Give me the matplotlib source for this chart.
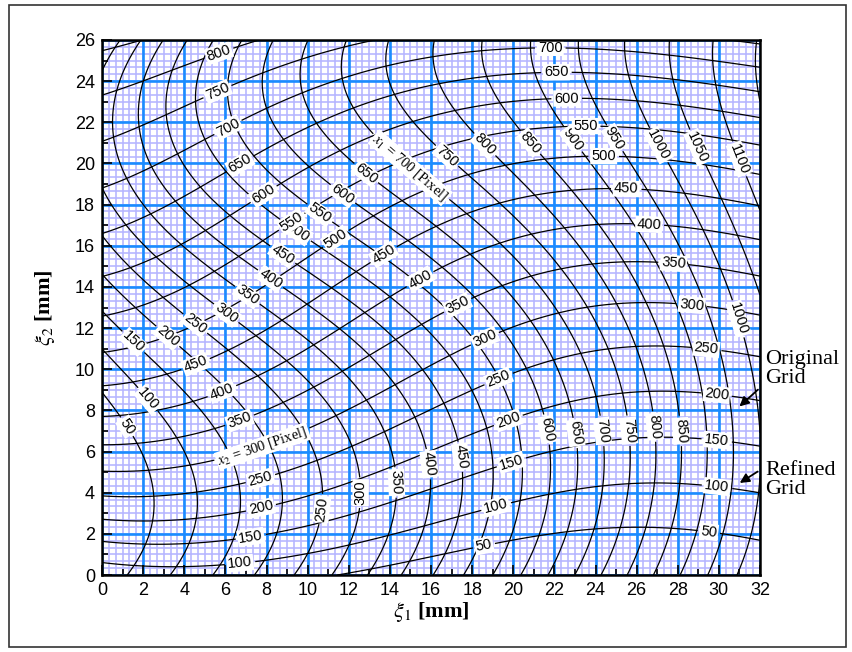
import numpy as np
import matplotlib
matplotlib.use('Agg')
import matplotlib.pyplot as plt
from matplotlib.patches import Rectangle

# ---------------- readings from the picture ----------------
# x1 pixel coordinate read at points (xi1, xi2) [mm]
x1_xi1 = [1.1, 3.3, 5.5, 7.5, 9.4, 11.2, 12.9, 14.5, 16.0, 17.5, 18.8, 20.3, 21.7, 23.0, 24.3, 25.6, 26.9, 28.2, 29.5, 30.9,
          10.7, 12.6, 14.4, 16.0, 17.8, 21.8, 23.0, 24.3, 25.5, 26.7, 28.1, 31.1,
          1.2, 2.2, 1.5, 3.2, 4.6, 6.1, 7.0, 8.2, 8.6, 9.5, 10.6, 11.7, 12.9, 15.0, 16.9, 18.7, 20.8, 22.8, 24.9, 26.9, 29.0, 31.2,
          0, 0, 0, 0, 0, 0,
          8.2, 10.0, 12.0, 14.1, 16.2, 18.3, 20.8, 23.1, 25.5, 27.7, 29.9, 31.6,
          32, 32, 32]
x1_xi2 = [0] * 20 + \
         [3.2, 4.0, 4.5, 5.4, 5.8, 7.1, 6.9, 7.0, 7.0, 7.2, 7.0, 12.5] + \
         [7.2, 8.5, 11.3, 11.6, 12.3, 12.8, 13.5, 14.4, 15.3, 16.6, 17.6, 18.5, 19.6, 19.8, 20.5, 21.0, 21.0, 21.1, 21.2, 20.8, 20.8, 20.3] + \
         [9.0, 11.1, 12.8, 14.5, 16.5, 19.1] + \
         [26] * 12 + \
         [13.5, 17.5, 0]
x1_pix = [50, 100, 150, 200, 250, 300, 350, 400, 450, 500, 550, 600, 650, 700, 750, 800, 850, 900, 950, 1000,
          250, 300, 350, 400, 450, 600, 650, 700, 750, 800, 850, 1000,
          50, 100, 150, 200, 250, 300, 350, 400, 450, 500, 550, 600, 650, 700, 750, 800, 850, 900, 950, 1000, 1050, 1100,
          50, 100, 150, 200, 250, 300,
          600, 650, 700, 750, 800, 850, 900, 950, 1000, 1050, 1100, 1150,
          1050, 1100, 1040]

# x2 pixel coordinate read at points (xi1, xi2) [mm]
x2_xi1 = [29.9, 29.9, 29.9, 29.4, 28.7, 27.8, 26.6, 25.5, 24.4, 23.5, 22.6, 22.1, 21.8, 29.5,
          18.6, 19.2, 19.9, 19.8, 19.3, 18.7, 17.2, 15.4, 13.5, 11.2, 9.2, 7.8, 6.7, 6.1, 5.7, 5.7,
          6.7, 7.2, 7.7, 7.7, 7.9, 6.8, 6.0, 4.8,
          0, 0, 0, 0, 0, 0, 0, 0, 0, 0, 0, 0,
          32, 32, 32, 32, 32, 32, 32, 32, 32, 32, 32, 32, 32, 32,
          15.4, 10.5, 7.0]
x2_xi2 = [4.2, 6.6, 8.9, 11.1, 13.3, 15.2, 17.2, 18.9, 20.3, 21.7, 23.1, 24.4, 25.5, 2.0,
          1.3, 3.2, 5.5, 7.4, 9.5, 11.3, 13.3, 14.5, 15.9, 16.6, 17.2, 18.6, 20.0, 21.8, 23.3, 25.3,
          0.7, 2.1, 3.4, 4.7, 6.0, 7.2, 8.5, 9.6,
          0.3, 1.5, 2.8, 4.0, 5.5, 6.5, 7.8, 9.2, 10.7, 21.0, 23.3, 25.5,
          1.7, 4.0, 6.4, 8.5, 10.6, 12.6, 14.4, 16.2, 17.9, 19.4, 20.8, 22.1, 23.5, 24.9,
          0.8, 0.0, 26.0]
x2_pix = [100, 150, 200, 250, 300, 350, 400, 450, 500, 550, 600, 650, 700, 50,
          50, 100, 150, 200, 250, 300, 350, 400, 450, 500, 550, 600, 650, 700, 750, 800,
          100, 150, 200, 250, 300, 350, 400, 450,
          100, 150, 200, 250, 300, 350, 400, 450, 500, 750, 800, 850,
          50, 100, 150, 200, 250, 300, 350, 400, 450, 500, 550, 600, 650, 700,
          50, 50, 800]

x1_levels = list(range(50, 1151, 50))
x2_levels = list(range(50, 851, 50))

x_ticks = list(range(0, 33, 2))
y_ticks = list(range(0, 27, 2))

# where the contour labels sit
x1_label_at = {
    50: [(1.2, 7.2)], 100: [(2.2, 8.5)], 150: [(1.5, 11.3)], 200: [(3.2, 11.6)],
    250: [(4.6, 12.3), (10.7, 3.2)], 300: [(6.1, 12.8), (12.6, 4.0)], 350: [(7.0, 13.5), (14.4, 4.5)],
    400: [(8.2, 14.4), (16.0, 5.4)], 450: [(8.6, 15.3), (17.8, 5.8)], 500: [(9.5, 16.6)], 550: [(10.6, 17.6)],
    600: [(11.7, 18.5), (21.8, 7.1)], 650: [(12.9, 19.6), (23.0, 6.9)], 700: [(24.3, 7.0)],
    750: [(16.9, 20.5), (25.5, 7.0)], 800: [(18.7, 21.0), (26.7, 7.2)], 850: [(20.8, 21.0), (28.1, 7.0)],
    900: [(22.8, 21.1)], 950: [(24.9, 21.2)], 1000: [(26.9, 20.8), (31.1, 12.5)],
    1050: [(29.0, 20.8)], 1100: [(31.2, 20.3)],
}
x2_label_at = {
    50: [(18.6, 1.3), (29.5, 2.0)], 100: [(6.7, 0.7), (19.2, 3.2), (29.9, 4.2)],
    150: [(7.2, 2.1), (19.9, 5.5), (29.9, 6.6)], 200: [(7.7, 3.4), (19.8, 7.4), (29.9, 8.9)],
    250: [(7.7, 4.7), (19.3, 9.5), (29.4, 11.1)], 300: [(18.7, 11.3), (28.7, 13.3)],
    350: [(6.8, 7.2), (17.2, 13.3), (27.8, 15.2)], 400: [(6.0, 8.5), (15.4, 14.5), (26.6, 17.2)],
    450: [(4.8, 9.6), (13.5, 15.9), (25.5, 18.9)], 500: [(11.2, 16.6), (24.4, 20.3)],
    550: [(9.2, 17.2), (23.5, 21.7)], 600: [(7.8, 18.6), (22.6, 23.1)],
    650: [(6.7, 20.0), (22.1, 24.4)], 700: [(6.1, 21.8), (21.8, 25.5)],
    750: [(5.7, 23.3)], 800: [(5.7, 25.3)],
}
x1_named = {700: [(15.0, 19.8), r'$x_1$ = 700 [Pixel]']}
x2_named = {300: [(7.9, 6.0), r'$x_2$ = 300 [Pixel]']}


def poly_terms(u, w, deg):
    return np.stack([u ** i * w ** j for i in range(deg + 1) for j in range(deg + 1 - i)], axis=-1)


def fit_surface(a, b, v, deg=5, ridge=1e-4):
    A = poly_terms(np.asarray(a, float) / 32, np.asarray(b, float) / 26, deg)
    coef = np.linalg.solve(A.T @ A + ridge * np.eye(A.shape[1]), A.T @ np.asarray(v, float))
    return coef


plt.rcParams['font.family'] = ['Liberation Sans', 'DejaVu Sans']
plt.rcParams['mathtext.fontset'] = 'stix'

fig = plt.figure(figsize=(8.52, 6.52), dpi=100)
ax = fig.add_axes([102 / 852, 77 / 652, 658 / 852, 535 / 652])
fig.add_artist(Rectangle((9 / 852, 5 / 652), 837 / 852, 642 / 652, transform=fig.transFigure,
                         fill=False, ec='#333333', lw=1.2))

# refined grid (lavender) and original grid (blue)
fine = np.arange(0, 32.01, 1 / 3)
fine_y = np.arange(0, 26.01, 1 / 3)
ax.vlines(fine, 0, 26, color='#b4b4ff', lw=1.15, zorder=1)
ax.hlines(fine_y, 0, 32, color='#b4b4ff', lw=1.15, zorder=1)
ax.set_axisbelow('line')
ax.grid(True, which='major', color='#1a8cff', lw=1.9)

G1, G2 = np.meshgrid(np.linspace(0, 32, 321), np.linspace(0, 26, 261))
c1 = fit_surface(x1_xi1, x1_xi2, x1_pix)
c2 = fit_surface(x2_xi1, x2_xi2, x2_pix)
F1 = poly_terms(G1 / 32, G2 / 26, 5) @ c1
F2 = poly_terms(G1 / 32, G2 / 26, 5) @ c2

texts = []


def draw_family(F, levels, label_at, named):
    for lev in levels:
        cs = ax.contour(G1, G2, F, levels=[lev], colors='k', linewidths=0.9, zorder=3)
        if lev in named:
            plt.rcParams['font.family'] = ['Liberation Serif', 'DejaVu Serif']
            texts.extend(cs.clabel(manual=named[lev][:1], inline=True, inline_spacing=3,
                                   fmt={lev: named[lev][1]}, fontsize=10.5))
            plt.rcParams['font.family'] = ['Liberation Sans', 'DejaVu Sans']
        if lev in label_at:
            texts.extend(cs.clabel(manual=label_at[lev], inline=True, inline_spacing=3,
                                   fmt=lambda v: f'{v:.0f}', fontsize=10.5))


draw_family(F1, x1_levels, x1_label_at, x1_named)
draw_family(F2, x2_levels, x2_label_at, x2_named)
for t in texts:
    t.set_bbox(dict(boxstyle='square,pad=0.08', fc='white', ec='none'))

ax.set_xlim(0, 32)
ax.set_ylim(0, 26)
ax.set_xticks(x_ticks)
ax.set_yticks(y_ticks)
ax.set_xticks(range(0, 33), minor=True)
ax.set_yticks(range(0, 27), minor=True)
ax.tick_params(which='both', direction='in', top=False, right=False, width=1.2, colors='k', labelsize=13)
ax.tick_params(which='major', length=7, pad=5)
ax.tick_params(which='minor', length=4)
for s in ax.spines.values():
    s.set_linewidth(1.8)
    s.set_zorder(5)

ax.set_xlabel(r'$\xi_1$ [mm]', family='Liberation Serif', weight='bold', fontsize=16, labelpad=1)
ax.set_ylabel(r'$\xi_2$ [mm]', family='Liberation Serif', weight='bold', fontsize=16, labelpad=13)

fig.text(765 / 852, 1 - 369 / 652, 'Original\nGrid', family='Liberation Serif', fontsize=16,
         va='center', ha='left', linespacing=1.0)
fig.text(765 / 852, 1 - 480 / 652, 'Refined\nGrid', family='Liberation Serif', fontsize=16,
         va='center', ha='left', linespacing=1.0)
arrow = dict(arrowstyle='-|>', color='k', lw=1.3, mutation_scale=14)
ax.annotate('', xy=(30.9, 8.1), xytext=(32.0, 9.1), arrowprops=arrow, annotation_clip=False, zorder=6)
ax.annotate('', xy=(30.9, 4.4), xytext=(32.0, 5.1), arrowprops=arrow, annotation_clip=False, zorder=6)

fig.savefig('out.png', dpi=100)
